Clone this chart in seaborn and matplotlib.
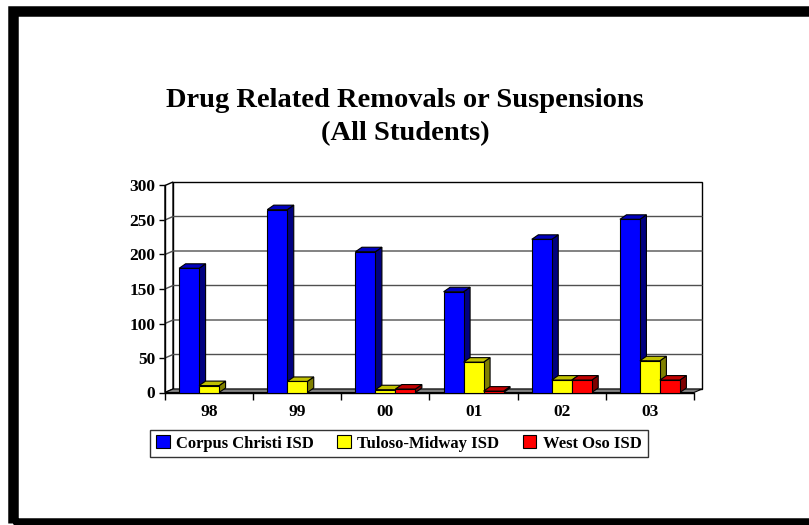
import matplotlib
matplotlib.use("Agg")
import matplotlib.pyplot as plt
from matplotlib.patches import Polygon, Rectangle, Patch
import seaborn as sns
import numpy as np
import pandas as pd

years = ["98", "99", "00", "01", "02", "03"]
districts = ["Corpus Christi ISD", "Tuloso-Midway ISD", "West Oso ISD"]
corpus_christi = [180, 265, 204, 146, 222, 251]
tuloso_midway = [10, 16, 4, 44, 18, 46]
west_oso = [np.nan, np.nan, 5, 2, 18, 18]
yticks = [0, 50, 100, 150, 200, 250, 300]

front_colors = ["#0000FF", "#FFFF00", "#FF0000"]
side_colors = ["#000080", "#808000", "#800000"]
top_colors = ["#0000C0", "#C0C000", "#C00000"]

df = pd.DataFrame({
    "Year": years * 3,
    "District": [d for d in districts for _ in years],
    "Count": corpus_christi + tuloso_midway + west_oso,
})

W, H, DPI = 809, 525, 100
sns.set_theme(style="white")
plt.rcParams["font.family"] = ["Liberation Serif", "DejaVu Serif"]
plt.rcParams["font.weight"] = "bold"
plt.rcParams["text.color"] = "black"
plt.rcParams["xtick.color"] = "black"
plt.rcParams["ytick.color"] = "black"

fig = plt.figure(figsize=(W / DPI, H / DPI), dpi=DPI)
fig.patch.set_facecolor("white")

# frame around the slide
fig.patches.append(Rectangle((12.5 / W, (H - 523) / H), 2, (523 - 10.5) / H,
                             transform=fig.transFigure, fill=False,
                             edgecolor="black", linewidth=10.5 * 72 / DPI))

x0p, x1p, y0p, y1p = 165, 694, 392.5, 185.5
ax = fig.add_axes([x0p / W, (H - y0p) / H, (x1p - x0p) / W, (y0p - y1p) / H])

sns.barplot(data=df, x="Year", y="Count", hue="District", order=years,
            hue_order=districts, palette=front_colors, saturation=1,
            width=0.68, edgecolor="black", linewidth=0.8, errorbar=None,
            legend=False, ax=ax)

ax.set_xlim(-0.5, 5.5)
ax.set_ylim(0, 300)
ax.set_facecolor("none")
for s in ax.spines.values():
    s.set_visible(False)


def off(x, y, dxp, dyp):
    d = ax.transData.transform((x, y)) + np.array([dxp, dyp])
    return tuple(ax.transData.inverted().transform(d))


# back wall, side wall, floor, gridlines
WDX, WDY = 8, 3.5
xa, xb = -0.5, 5.5
wall = Polygon([off(xa, 0, WDX, WDY), off(xb, 0, WDX, WDY),
                off(xb, 300, WDX, WDY), off(xa, 300, WDX, WDY)],
               closed=True, facecolor="white", edgecolor="black",
               linewidth=1, zorder=0.5, clip_on=False)
ax.add_patch(wall)
side = Polygon([(xa, 0), off(xa, 0, WDX, WDY), off(xa, 300, WDX, WDY), (xa, 300)],
               closed=True, facecolor="white", edgecolor="black",
               linewidth=1, zorder=0.6, clip_on=False)
ax.add_patch(side)
for v in yticks[1:-1]:
    p1 = off(xa, v, WDX, WDY)
    p2 = off(xb, v, WDX, WDY)
    ax.plot([xa, p1[0], p2[0]], [v, p1[1], p2[1]], color="#505050",
            linewidth=1, zorder=0.7, clip_on=False)
floor = Polygon([(xa, 0), (xb, 0), off(xb, 0, WDX, WDY), off(xa, 0, WDX, WDY)],
                closed=True, facecolor="#808080", edgecolor="black",
                linewidth=0.8, zorder=0.8, clip_on=False)
ax.add_patch(floor)
ax.plot([xa, xa], [0, 300], color="black", linewidth=1, zorder=0.9, clip_on=False)
ax.plot([xa, xb], [0, 0], color="black", linewidth=1, zorder=0.9, clip_on=False)

# 3D faces for bars
BDX, BDY = 6.5, 4.5
for i, cont in enumerate(ax.containers):
    for p in cont.patches:
        h = p.get_height()
        if not np.isfinite(h):
            continue
        bx, bw = p.get_x(), p.get_width()
        z = 3 + (bx + 1) * 0.1
        p.set_zorder(z)
        sidef = Polygon([(bx + bw, 0), (bx + bw, h), off(bx + bw, h, BDX, BDY),
                         off(bx + bw, 0, BDX, BDY)], closed=True,
                        facecolor=side_colors[i], edgecolor="black",
                        linewidth=0.8, zorder=z - 0.01)
        topf = Polygon([(bx, h), (bx + bw, h), off(bx + bw, h, BDX, BDY),
                        off(bx, h, BDX, BDY)], closed=True,
                       facecolor=top_colors[i], edgecolor="black",
                       linewidth=0.8, zorder=z - 0.01)
        ax.add_patch(sidef)
        ax.add_patch(topf)

# ticks
ax.set_yticks(yticks)
ax.set_yticklabels([str(t) for t in yticks], fontsize=12.5, fontweight="bold")
ax.set_xticks(range(len(years)))
ax.set_xticklabels(years, fontsize=12.5, fontweight="bold")
ax.set_xticks(np.arange(-0.5, 6, 1), minor=True)
ax.tick_params(axis="y", direction="out", length=4, width=1, color="black",
               left=True, pad=3, labelcolor="black")
ax.tick_params(axis="x", which="major", length=0, pad=8, labelcolor="black")
ax.tick_params(axis="x", which="minor", direction="out", length=5, width=1,
               color="black", bottom=True)
ax.set_xlabel("")
ax.set_ylabel("")

# title
fig.text(405 / W, 1 - 101 / H, "Drug Related Removals or Suspensions",
         ha="center", va="center", fontsize=20.5, fontweight="bold", color="black")
fig.text(405 / W, 1 - 134 / H, "(All Students)",
         ha="center", va="center", fontsize=20.5, fontweight="bold", color="black")

# legend
handles = [Patch(facecolor=c, edgecolor="black", linewidth=0.8) for c in front_colors]
leg = fig.legend(handles, districts, loc="center", ncol=3,
                 bbox_to_anchor=(399 / W, 1 - 443.5 / H), frameon=True,
                 fancybox=False, edgecolor="black",
                 prop={"weight": "bold", "size": 12},
                 handlelength=0.8, handleheight=0.8, handletextpad=0.4,
                 columnspacing=1.4, borderpad=0.35)
leg.get_frame().set_linewidth(1)

fig.savefig("out.png", dpi=DPI, facecolor="white")
